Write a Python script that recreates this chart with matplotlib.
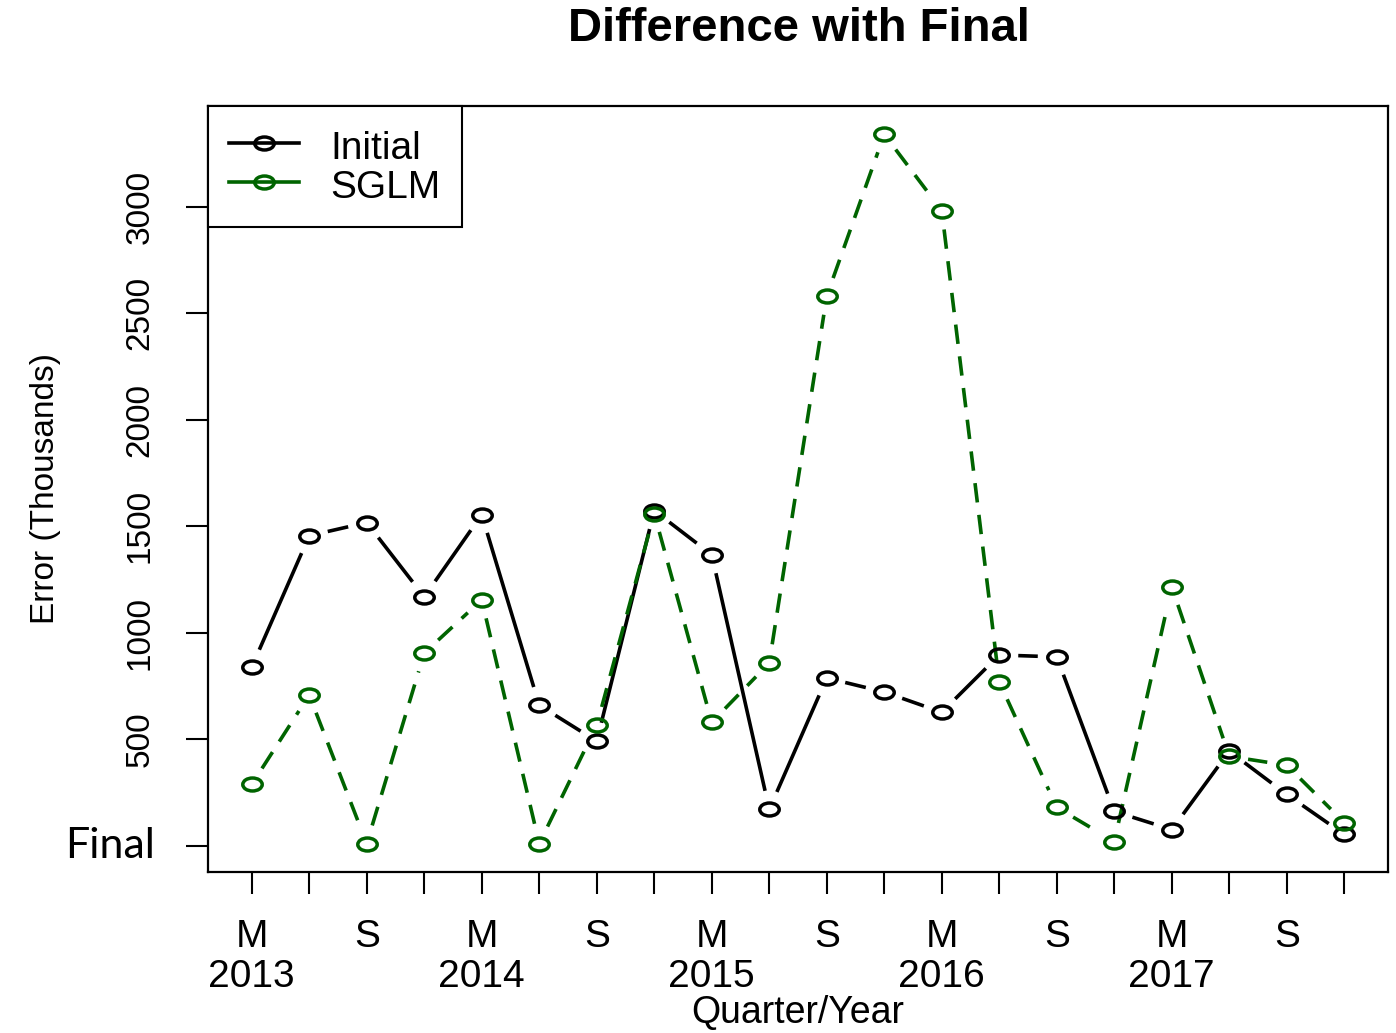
import numpy as np
import matplotlib
matplotlib.use("Agg")
import matplotlib.pyplot as plt
from matplotlib.path import Path
from matplotlib.transforms import Affine2D
from matplotlib.lines import Line2D
from matplotlib.collections import LineCollection

plt.rcParams['font.family'] = ['Liberation Sans', 'DejaVu Sans']
plt.rcParams['lines.scale_dashes'] = False

# quarterly errors, 2013 Q1 .. 2017 Q4 (thousands)
quarters = np.arange(1, 21)
initial = [838, 1455, 1517, 1168, 1554, 659, 490, 1573, 1366, 170,
           787, 721, 626, 895, 886, 160, 75, 443, 240, 52]
sglm = [287, 707, 9, 904, 1154, 9, 565, 1559, 579, 857,
        2581, 3340, 2982, 768, 179, 19, 1215, 419, 377, 108]

xtick_labels = ["M\n2013", "", "S", "", "M\n2014", "", "S", "", "M\n2015", "",
                "S", "", "M\n2016", "", "S", "", "M\n2017", "", "S", ""]
ytick_values = [0, 500, 1000, 1500, 2000, 2500, 3000]
ytick_labels = ["Final", "500", "1000", "1500", "2000", "2500", "3000"]

GREEN = "#006400"
W, H = 1396, 1033

# wide open ellipse used as point symbol
ellipse = Path.unit_circle().transformed(Affine2D().scale(1.5, 1.0))

fig = plt.figure(figsize=(W / 100, H / 100), dpi=100)
ax = fig.add_axes([208 / W, 1 - 872 / H, 1180 / W, 766 / H])

series = [(initial, "black", "-"), (sglm, GREEN, (0, (14, 9)))]

for vals, col, ls in series:
    ax.plot(quarters, vals, linestyle="none", marker=ellipse, markersize=14,
            markerfacecolor="none", markeredgecolor=col, markeredgewidth=2.5,
            zorder=3)
ax.margins(x=0.04, y=0.04)
ax.set_xlim(ax.get_xlim())
ax.set_ylim(ax.get_ylim())


def gapped_segments(x, y, gap=19):
    # shorten each segment in pixel space so it stops short of the points
    pts = ax.transData.transform(np.column_stack([x, y]))
    inv = ax.transData.inverted()
    segs = []
    for p0, p1 in zip(pts[:-1], pts[1:]):
        d = p1 - p0
        L = np.hypot(*d)
        if L <= 2 * gap:
            continue
        u = d / L
        segs.append(inv.transform(np.array([p0 + u * gap, p1 - u * gap])))
    return segs


for vals, col, ls in series:
    lc = LineCollection(gapped_segments(quarters, vals), colors=col,
                        linewidths=2.6, linestyles=[ls], capstyle="butt",
                        zorder=2)
    ax.add_collection(lc)

# axes styling
for sp in ax.spines.values():
    sp.set_linewidth(1.6)
ax.set_xticks(quarters, xtick_labels, fontsize=28, linespacing=1.12)
ax.set_yticks(ytick_values, ytick_labels, fontsize=24, rotation=90, va="center")
ax.tick_params(axis="x", length=16, width=1.5, pad=18)
ax.tick_params(axis="y", length=16, width=1.5, pad=22)
final_lab = ax.get_yticklabels()[0]
final_lab.set_rotation(0)
final_lab.set_fontfamily("Lato")
final_lab.set_fontsize(31)

ax.set_xlabel("Quarter/Year", fontsize=27, labelpad=0)
ax.set_ylabel("Error (Thousands)", fontsize=24, labelpad=3)

fig.text(799 / W, 1 - 29 / H, "Difference with Final", fontsize=34,
         fontweight="bold", ha="center", va="center")

handles = [Line2D([], [], color="black", lw=2.6, marker=ellipse, markersize=14,
                  markerfacecolor="none", markeredgewidth=2.5),
           Line2D([], [], color=GREEN, lw=2.6, marker=ellipse, markersize=14,
                  markerfacecolor="none", markeredgewidth=2.5)]
leg = ax.legend(handles, ["Initial", "SGLM"], loc="upper left", fontsize=28,
                borderaxespad=0, fancybox=False, framealpha=1,
                handlelength=1.8, handletextpad=0.8, borderpad=0.55,
                handleheight=1.05, labelspacing=0.0)
leg.get_frame().set_edgecolor("black")
leg.get_frame().set_linewidth(1.5)

fig.savefig("out.png", dpi=100)
